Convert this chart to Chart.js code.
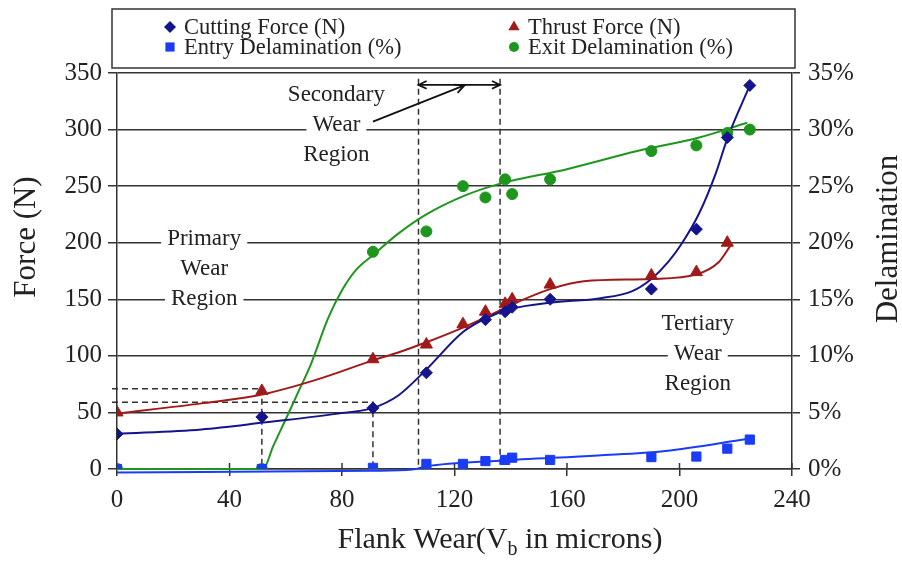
<!DOCTYPE html>
<html>
<head>
<meta charset="utf-8">
<title>Flank Wear - Force and Delamination</title>
<script src="https://cdn.jsdelivr.net/npm/chart.js@4.4.1/dist/chart.umd.min.js"></script>
<style>
    html, body { margin: 0; padding: 0; background: #fff; }
    #wrap { width: 902px; height: 563px; }
</style>
</head>
<body>
<div id="wrap"><canvas id="wearChart" width="902" height="563"></canvas></div>
<script>
(function() {
    'use strict';

    // Measured points (flank wear in microns)
    const flankWear = [0, 51.5, 91, 110, 123, 131, 138, 140.5, 154, 190, 206, 217, 225];
    const cuttingForce = [31, 46, 54, 85, null, 132, 139, 143, 150, 159, 212, 293, 339];
    const thrustForce = [50, 69, 97, 110, 128, 139, 146, 150, 163, 171, 174, 200, null];
    const entryDelam = [0, 0, 0.1, 0.45, 0.45, 0.7, 0.8, 1.0, 0.8, 1.05, 1.1, 1.8, 2.6];
    const exitDelam = [0, 0, 19.2, 21, 25, 24, 25.6, 24.3, 25.6, 28.1, 28.6, 29.7, 30];

    // Trend curves
    const cuttingFitX = [0, 30, 52, 77, 91, 100, 110, 123, 131, 141, 154, 172, 183, 190, 196, 201, 207, 213, 217, 225];
    const cuttingFitY = [31, 35, 41, 48.5, 54, 65, 88, 121, 133, 142, 147, 151, 157, 168, 183, 200, 226, 262, 292, 339];
    const thrustFitX = [0, 30, 52, 71, 91, 100, 110, 123, 131, 141, 154, 166, 190, 206, 214, 218];
    const thrustFitY = [49, 58, 66, 79, 96, 103, 112, 125, 134, 146, 159, 166, 168, 172, 183, 197];
    const entryFitX = [0, 91, 105, 110, 136, 171, 195, 224];
    const entryFitY = [-0.3, -0.15, -0.05, 0.24, 0.74, 1.2, 1.6, 2.65];
    const exitFitX = [0, 52, 55.5, 60, 65, 69, 75, 80, 85, 91, 100, 110, 124, 136, 160, 185, 207, 224];
    const exitFitY = [0, 0, 2.0, 4.4, 7.1, 9.3, 13.3, 15.8, 17.6, 18.9, 20.8, 22.5, 24.2, 25.2, 26.5, 28.1, 29.3, 30.6];

    // Axis ticks
    const xTicks = [0, 40, 80, 120, 160, 200, 240];
    const forceTicks = [0, 50, 100, 150, 200, 250, 300, 350];
    const delamTicks = [0, 5, 10, 15, 20, 25, 30, 35];

    // Guide lines and region marks (data units)
    const regionBounds = [107.2, 136.2];
    const guideLevels = [71, 59];
    const guideWear = [51.5, 91];

    const FONT = "'Liberation Serif', 'Times New Roman', serif";
    const INK = '#222';
    const colors = {
        cutting: '#14148c',
        thrust: '#a01a1a',
        entry: '#1a3cf5',
        exit: '#1e961e'
    };

    Chart.defaults.font.family = FONT;
    Chart.defaults.color = INK;

    function pairs(xs, ys) {
        return xs.map((x, i) => ({ x: x, y: ys[i] })).filter(p => p.y !== null);
    }

    function fitLine(label, xs, ys, color, axis) {
        return {
            label: label,
            data: pairs(xs, ys),
            yAxisID: axis,
            borderColor: color,
            borderWidth: 2,
            pointRadius: 0,
            fill: false,
            cubicInterpolationMode: 'monotone',
            clip: false,
            order: 10
        };
    }

    function markers(label, ys, color, style, radius, axis) {
        return {
            label: label,
            data: pairs(flankWear, ys),
            yAxisID: axis,
            showLine: false,
            pointStyle: style,
            pointRadius: radius,
            pointBackgroundColor: color,
            pointBorderColor: color,
            pointBorderWidth: 1,
            order: 1
        };
    }

    const regionLabels = [
        { lines: ['Secondary', 'Wear', 'Region'], x: 78, y: 304 },
        { lines: ['Primary', 'Wear', 'Region'], x: 31, y: 177 },
        { lines: ['Tertiary', 'Wear', 'Region'], x: 206.5, y: 102 }
    ];

    function arrowHead(ctx, x0, y0, x1, y1, size) {
        const a = Math.atan2(y1 - y0, x1 - x0);
        ctx.beginPath();
        ctx.moveTo(x1 - size * Math.cos(a - 0.45), y1 - size * Math.sin(a - 0.45));
        ctx.lineTo(x1, y1);
        ctx.lineTo(x1 - size * Math.cos(a + 0.45), y1 - size * Math.sin(a + 0.45));
        ctx.stroke();
    }

    const overlay = {
        id: 'wearOverlay',
        beforeDatasetsDraw(chart) {
            const ctx = chart.ctx;
            const x = chart.scales.x;
            const y = chart.scales.y;
            const bottom = y.getPixelForValue(0);
            ctx.save();

            // dashed guides
            ctx.strokeStyle = '#333';
            ctx.lineWidth = 1.5;
            ctx.setLineDash([6, 4]);
            guideLevels.forEach((lvl, i) => {
                const py = y.getPixelForValue(lvl);
                const px = x.getPixelForValue(guideWear[i]);
                ctx.beginPath();
                ctx.moveTo(x.left - 5, py);
                ctx.lineTo(px, py);
                ctx.lineTo(px, bottom);
                ctx.stroke();
            });
            const topY = y.getPixelForValue(345);
            regionBounds.forEach(b => {
                const px = x.getPixelForValue(b);
                ctx.beginPath();
                ctx.moveTo(px, topY);
                ctx.lineTo(px, bottom);
                ctx.stroke();
            });
            ctx.setLineDash([]);

            // double arrow across the secondary region
            const ay = y.getPixelForValue(339.5);
            const ax0 = x.getPixelForValue(regionBounds[0]);
            const ax1 = x.getPixelForValue(regionBounds[1]);
            ctx.strokeStyle = '#111';
            ctx.lineWidth = 1.8;
            ctx.beginPath();
            ctx.moveTo(ax0, ay);
            ctx.lineTo(ax1, ay);
            ctx.stroke();
            arrowHead(ctx, ax1, ay, ax0, ay, 9);
            arrowHead(ctx, ax0, ay, ax1, ay, 9);

            // pointer from label to region
            const px0 = x.getPixelForValue(91);
            const py0 = y.getPixelForValue(307);
            const px1 = x.getPixelForValue(123.5);
            const py1 = y.getPixelForValue(339);
            ctx.beginPath();
            ctx.moveTo(px0, py0);
            ctx.lineTo(px1, py1);
            ctx.stroke();
            arrowHead(ctx, px0, py0, px1, py1, 10);

            // region labels with white backing
            ctx.font = '23px ' + FONT;
            ctx.textAlign = 'center';
            ctx.textBaseline = 'middle';
            regionLabels.forEach(r => {
                const cx = x.getPixelForValue(r.x);
                const cy = y.getPixelForValue(r.y);
                r.lines.forEach((t, i) => {
                    const ly = cy + (i - 1) * 30;
                    const w = ctx.measureText(t).width;
                    ctx.fillStyle = '#fff';
                    ctx.fillRect(cx - w / 2 - 6, ly - 12, w + 12, 24);
                    ctx.fillStyle = INK;
                    ctx.fillText(t, cx, ly);
                });
            });

            // x tick marks reaching into the plot
            ctx.strokeStyle = '#333';
            ctx.lineWidth = 1.5;
            x.ticks.forEach(t => {
                const px = x.getPixelForValue(t.value);
                ctx.beginPath();
                ctx.moveTo(px, bottom);
                ctx.lineTo(px, bottom - 6);
                ctx.stroke();
            });
            ctx.restore();
        },
        afterDraw(chart) {
            const ctx = chart.ctx;
            ctx.save();

            // legend box
            ctx.strokeStyle = '#333';
            ctx.lineWidth = 1.5;
            ctx.strokeRect(112, 9, 683, 59);
            const items = [
                { text: 'Cutting Force (N)', color: colors.cutting, style: 'rectRot', r: 6, x: 170, y: 27 },
                { text: 'Thrust Force (N)', color: colors.thrust, style: 'triangle', r: 6.5, x: 514, y: 27 },
                { text: 'Entry Delamination (%)', color: colors.entry, style: 'rect', r: 6.5, x: 170, y: 47 },
                { text: 'Exit Delamination (%)', color: colors.exit, style: 'circle', r: 5, x: 514, y: 47 }
            ];
            ctx.font = '22.5px ' + FONT;
            ctx.textAlign = 'left';
            ctx.textBaseline = 'middle';
            items.forEach(it => {
                ctx.fillStyle = it.color;
                ctx.strokeStyle = it.color;
                Chart.helpers.drawPoint(ctx, { pointStyle: it.style, radius: it.r, rotation: 0, borderWidth: 0 }, it.x, it.y);
                ctx.fillStyle = INK;
                ctx.fillText(it.text, it.x + 14, it.y + 1);
            });

            // axis titles
            ctx.fillStyle = INK;
            ctx.textAlign = 'center';
            ctx.font = '31px ' + FONT;
            ctx.save();
            ctx.translate(27, 237);
            ctx.rotate(-Math.PI / 2);
            ctx.fillText('Force (N)', 0, 0);
            ctx.restore();
            ctx.save();
            ctx.translate(889, 239);
            ctx.rotate(-Math.PI / 2);
            ctx.fillText('Delamination', 0, 0);
            ctx.restore();

            // x title with subscript
            const partA = 'Flank Wear(V';
            const partB = 'b';
            const partC = ' in microns)';
            const big = '30px ' + FONT;
            const small = '20px ' + FONT;
            ctx.textAlign = 'left';
            ctx.textBaseline = 'alphabetic';
            ctx.font = big;
            const wA = ctx.measureText(partA).width;
            const wC = ctx.measureText(partC).width;
            ctx.font = small;
            const wB = ctx.measureText(partB).width;
            let sx = 500 - (wA + wB + wC) / 2;
            const base = 548;
            ctx.font = big;
            ctx.fillText(partA, sx, base);
            sx += wA;
            ctx.font = small;
            ctx.fillText(partB, sx, base + 7);
            sx += wB;
            ctx.font = big;
            ctx.fillText(partC, sx, base);
            ctx.restore();
        }
    };

    const ctx = document.getElementById('wearChart');
    new Chart(ctx, {
        type: 'line',
        data: {
            datasets: [
                fitLine('Cutting fit', cuttingFitX, cuttingFitY, colors.cutting, 'y'),
                fitLine('Thrust fit', thrustFitX, thrustFitY, colors.thrust, 'y'),
                fitLine('Entry fit', entryFitX, entryFitY, colors.entry, 'y2'),
                fitLine('Exit fit', exitFitX, exitFitY, colors.exit, 'y2'),
                markers('Cutting Force (N)', cuttingForce, colors.cutting, 'rectRot', 6, 'y'),
                markers('Entry Delamination (%)', entryDelam, colors.entry, 'rect', 6.5, 'y2'),
                markers('Exit Delamination (%)', exitDelam, colors.exit, 'circle', 5.5, 'y2'),
                markers('Thrust Force (N)', thrustForce, colors.thrust, 'triangle', 7, 'y')
            ]
        },
        options: {
            responsive: false,
            animation: false,
            layout: { padding: { top: 73, left: 0, right: 0, bottom: 0 } },
            plugins: {
                legend: { display: false },
                tooltip: { enabled: false }
            },
            scales: {
                x: {
                    type: 'linear',
                    min: 0,
                    max: 240,
                    afterBuildTicks: s => { s.ticks = xTicks.map(v => ({ value: v })); },
                    afterFit: s => { s.height = 94; },
                    ticks: { font: { size: 25 }, color: INK, padding: 9, maxRotation: 0 },
                    grid: { drawOnChartArea: false, color: '#333', lineWidth: 1.5, tickLength: 7 },
                    border: { color: '#333', width: 1.5 }
                },
                y: {
                    position: 'left',
                    min: 0,
                    max: 350,
                    afterBuildTicks: s => { s.ticks = forceTicks.map(v => ({ value: v })); },
                    afterFit: s => { s.width = 117; },
                    ticks: { font: { size: 25 }, color: INK, padding: 6 },
                    grid: { color: '#333', lineWidth: 1.5, tickLength: 9 },
                    border: { color: '#333', width: 1.5 }
                },
                y2: {
                    position: 'right',
                    min: 0,
                    max: 35,
                    afterBuildTicks: s => { s.ticks = delamTicks.map(v => ({ value: v })); },
                    afterFit: s => { s.width = 110; },
                    ticks: { font: { size: 25 }, color: INK, padding: 8, callback: v => v + '%' },
                    grid: { drawOnChartArea: false, color: '#333', lineWidth: 1.5, tickLength: 8 },
                    border: { color: '#333', width: 1.5 }
                }
            }
        },
        plugins: [overlay]
    });
})();
</script>
</body>
</html>
